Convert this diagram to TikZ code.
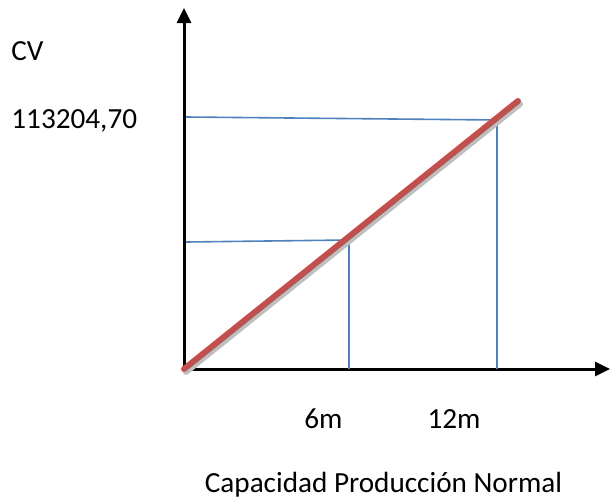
\documentclass[tikz,border=0pt]{standalone}
\usepackage{fontspec}
\setmainfont{Carlito}
\usetikzlibrary{arrows.meta}
\begin{document}
\begin{tikzpicture}[x=0.5pt,y=0.5pt,
  axis/.style={line width=1.5pt,-{Triangle[length=7.5pt,width=7pt]}},
  guide/.style={line width=0.8pt,draw=guideblue},
  cost/.style={line width=3pt,draw=costred,line cap=round},
  lbl/.style={font=\fontsize{14.6}{17}\selectfont,inner sep=0pt,anchor=base}]
\definecolor{guideblue}{HTML}{4F81BD}
\definecolor{costred}{HTML}{C0504D}
\useasboundingbox (0,0) rectangle (610,500);
%%% axes
\coordinate (O) at (184,131);
\coordinate (ytop) at (184,492);
\coordinate (xend) at (610,131);
\draw[axis] (O) -- (ytop);
\draw[axis] (O) -- (xend);
%%% guide lines for 6m and 12m
\coordinate (a6) at (186,258);
\coordinate (p6) at (349,260);
\coordinate (b6) at (349,131);
\coordinate (a12) at (186,383);
\coordinate (p12) at (497,380);
\coordinate (b12) at (497,131);
\draw[guide] (a6) -- (p6) -- (b6);
\draw[guide] (a12) -- (p12) -- (b12);
%%% cost line
\coordinate (cend) at (518,399);
\draw[line width=3pt,black!25,line cap=round] ([shift={(2,-3)}]O) -- ([shift={(2,-3)}]cend);
\draw[cost] (O) -- (cend);
%%% labels
\node[lbl,anchor=base west] (cv) at (11,440) {CV};
\node[lbl,anchor=base west] (val) at (11,372) {113204,70};
\node[lbl] (m6) at (323.5,72) {6m};
\node[lbl] (m12) at (454,72) {12m};
\node[lbl] (cap) at (383.5,8) {Capacidad Producción Normal};
\end{tikzpicture}
\end{document}
